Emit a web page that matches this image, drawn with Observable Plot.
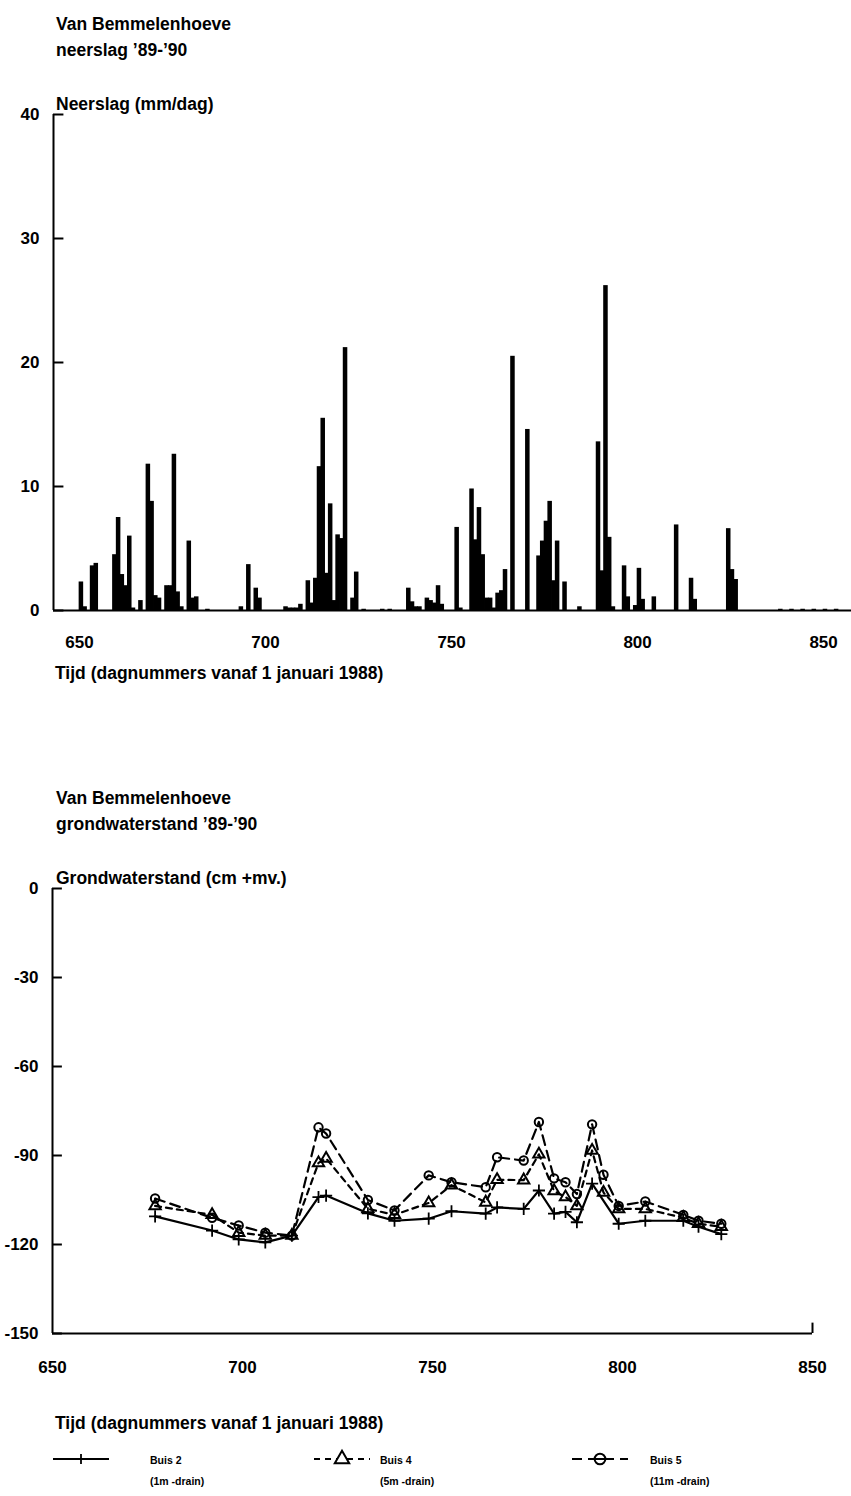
<!DOCTYPE html>
<html><head><meta charset="utf-8">
<script src="https://cdn.jsdelivr.net/npm/d3@7"></script>
<script src="https://cdn.jsdelivr.net/npm/@observablehq/plot@0.6"></script>
<style>
body{margin:0;background:#fff;}
#page{position:relative;width:851px;height:1496px;overflow:hidden;background:#fff;font-family:"Liberation Sans",Arial,sans-serif;font-weight:bold;color:#000}
.t{position:absolute;white-space:nowrap}
.chart{position:absolute;left:0}
</style></head><body><div id="page"></div>
<script>
// ---- precipitation (mm/day) ----
const rainDays = [650,651,653,654,659,660,661,662,663,664,666,668,669,670,671,673,674,675,676,677,679,680,681,684,
  693,695,697,698,705,706,707,708,709,711,712,713,714,715,716,717,718,719,720,721,723,724,726,731,733,
  738,739,740,741,743,744,745,746,747,751,752,755,756,757,758,759,760,761,762,763,764,766,770,773,774,775,776,777,778,780,784,
  789,790,791,792,793,796,797,799,800,801,804,810,814,815,824,825,826,838,841,844,847,850,853];
const rainValues = [2.3,0.3,3.6,3.8,4.5,7.5,2.9,2.0,6.0,0.2,0.8,11.8,8.8,1.2,1.0,2.0,2.0,12.6,1.5,0.3,5.6,1.0,1.1,0.1,
  0.3,3.7,1.8,1.0,0.3,0.2,0.2,0.2,0.5,2.4,0.6,2.6,11.6,15.5,3.0,8.6,0.8,6.1,5.8,21.2,1.0,3.1,0.1,0.1,0.1,
  1.8,0.7,0.3,0.3,1.0,0.8,0.6,2.0,0.5,6.7,0.2,9.8,5.7,8.3,4.5,1.0,1.0,0.2,1.4,1.6,3.3,20.5,14.6,4.4,5.6,7.2,8.8,2.4,5.6,2.3,0.3,
  13.6,3.2,26.2,5.9,0.3,3.6,1.1,0.4,3.4,0.9,1.1,6.9,2.6,0.9,6.6,3.3,2.5,0.1,0.1,0.1,0.1,0.1,0.1];
const rainTicks = [0,10,20,30,40];
const dayTicks = [650,700,750,800,850];

// ---- groundwater level (cm +mv.) ----
const buis2Days   = [677,692,699,706,713,720,722,733,740,749,755,764,767,774,778,782,785,788,792,799,806,816,820,826];
const buis2Values = [-110.5,-115.3,-118.3,-119.3,-117,-104,-103.5,-109.5,-112,-111.3,-108.8,-109.6,-107.5,-108,-101.8,-109.6,-109,-112.5,-99.5,-113,-112,-112,-114,-116.5];
const buisDays    = [677,692,699,706,713,720,722,733,740,749,755,764,767,774,778,782,785,788,792,795,799,806,816,820,826];
const buis4Values = [-107,-110,-116,-117,-117,-92.5,-91,-108,-110,-106,-100,-105.8,-98.2,-98.3,-89.6,-102,-104,-107,-88.3,-102.5,-108,-108,-111,-113,-114];
const buis5Values = [-104.5,-111,-113.6,-116,-117,-80.5,-82.6,-105,-108.5,-96.7,-99,-100.7,-90.6,-91.7,-78.7,-97.7,-99,-103,-79.5,-96.5,-107,-105.5,-110,-112,-113];
const gwTicks = [0,-30,-60,-90,-120,-150];

const titles = {
  rainTitle: "Van Bemmelenhoeve", rainSub: "neerslag \u201989-\u201990", rainAxis: "Neerslag (mm/dag)",
  gwTitle: "Van Bemmelenhoeve", gwSub: "grondwaterstand \u201989-\u201990", gwAxis: "Grondwaterstand (cm +mv.)",
  xLabel: "Tijd (dagnummers vanaf 1 januari 1988)"
};
const legendNames = ["Buis 2","Buis 4","Buis 5"];
const legendSubs = ["(1m -drain)","(5m -drain)","(11m -drain)"];

const page = d3.select("#page");
function label(text, left, baseline, size) {
  page.append("div").attr("class","t")
    .style("left", left+"px").style("top", (baseline - 0.8465*size)+"px")
    .style("font-size", size+"px").style("line-height", size+"px").text(text);
}
const font = {fontFamily: "'Liberation Sans', Arial, sans-serif", fontWeight: "bold", background: "transparent", overflow: "visible"};
const fmt = d => String(d);

// ---------- top chart ----------
const rain = rainDays.map((d,i)=>({day:d, mm:rainValues[i]}));
const rainPlot = Plot.plot({
  width: 851, height: 600,
  marginLeft: 53, marginRight: 0, marginTop: 14, marginBottom: 90,
  x: {domain: [643, 857.5]},
  y: {domain: [0, 40]},
  style: {...font, fontSize: "17px"},
  marks: [
    Plot.rectY(rain, {x1: d => d.day, x2: d => d.day + 1, y: "mm", fill: "black", insetLeft: -0.4, insetRight: -0.4}),
    Plot.ruleY([0], {x1: 643, x2: 857.5, stroke: "black", strokeWidth: 2}),
    Plot.ruleX([643], {y1: 0, y2: 40, stroke: "black", strokeWidth: 2}),
    Plot.ruleY(rainTicks, {x1: 643, x2: 645.8, stroke: "black", strokeWidth: 2}),
    Plot.axisY({ticks: rainTicks, tickFormat: fmt, tickSize: 0, tickPadding: 14, fontSize: 17, label: null}),
    Plot.axisX({ticks: dayTicks, tickFormat: fmt, tickSize: 0, tickPadding: 25, fontSize: 17, label: null})
  ]
});
d3.select(rainPlot).attr("class","chart").style("top","100px");
page.node().appendChild(rainPlot);

label(titles.rainTitle, 56, 31, 17.5);
label(titles.rainSub, 56, 57, 17.5);
label(titles.rainAxis, 56, 111, 17.5);
label(titles.xLabel, 55, 680, 17.5);

// ---------- bottom chart ----------
const b2 = buis2Days.map((d,i)=>({day:d, v:buis2Values[i]}));
const b4 = buisDays.map((d,i)=>({day:d, v:buis4Values[i]}));
const b5 = buisDays.map((d,i)=>({day:d, v:buis5Values[i]}));
const gwPlot = Plot.plot({
  width: 851, height: 560,
  marginLeft: 52, marginRight: 39, marginTop: 28, marginBottom: 87,
  x: {domain: [650, 850]},
  y: {domain: [-150, 0]},
  style: {...font, fontSize: "17px"},
  marks: [
    Plot.ruleY([-150], {x1: 650, x2: 850, stroke: "black", strokeWidth: 2}),
    Plot.ruleX([650], {y1: -150, y2: 0, stroke: "black", strokeWidth: 2}),
    Plot.ruleY(gwTicks, {x1: 650, x2: 652.6, stroke: "black", strokeWidth: 2}),
    Plot.ruleX([850], {y1: -150, y2: -146.5, stroke: "black", strokeWidth: 2}),
    Plot.line(b5, {x: "day", y: "v", stroke: "black", strokeWidth: 2.2, strokeDasharray: "10,6"}),
    Plot.line(b4, {x: "day", y: "v", stroke: "black", strokeWidth: 2.2, strokeDasharray: "6,5"}),
    Plot.line(b2, {x: "day", y: "v", stroke: "black", strokeWidth: 2.2}),
    Plot.dot(b5, {x: "day", y: "v", symbol: "circle", r: 4.2, stroke: "black", strokeWidth: 2, fill: "none"}),
    Plot.dot(b4, {x: "day", y: "v", symbol: "triangle", r: 4.2, stroke: "black", strokeWidth: 2, fill: "none"}),
    Plot.dot(b2, {x: "day", y: "v", symbol: "plus", r: 4, stroke: "black", strokeWidth: 1.8}),
    Plot.axisY({ticks: gwTicks, tickFormat: fmt, tickSize: 0, tickPadding: 14, fontSize: 17, label: null}),
    Plot.axisX({ticks: dayTicks, tickFormat: fmt, tickSize: 0, tickPadding: 27, fontSize: 17, label: null})
  ]
});
d3.select(gwPlot).attr("class","chart").style("top","860px");
page.node().appendChild(gwPlot);

label(titles.gwTitle, 56, 805, 17.5);
label(titles.gwSub, 56, 831, 17.5);
label(titles.gwAxis, 56, 885, 17.5);
label(titles.xLabel, 55, 1430, 17.5);

// ---------- legend ----------
const leg = page.append("svg").attr("class","chart").style("top","1445px")
  .attr("width", 851).attr("height", 51);
const legX = [53, 314, 572];
const textX = [150, 380, 650];
const dashes = [null, "6,5", "10,6"];
const symbols = [d3.symbolCross, d3.symbolTriangle, d3.symbolCircle];
legX.forEach((x0, i) => {
  const g = leg.append("g");
  g.append("line").attr("x1", x0).attr("x2", x0 + 56).attr("y1", 14).attr("y2", 14)
    .attr("stroke", "black").attr("stroke-width", 2).attr("stroke-dasharray", dashes[i]);
  if (i === 0) {
    g.append("line").attr("x1", x0+28).attr("x2", x0+28).attr("y1", 9).attr("y2", 19).attr("stroke","black").attr("stroke-width",1.8);
  } else {
    g.append("path").attr("d", d3.symbol(symbols[i], 90)()).attr("transform", `translate(${x0+28},14)`)
      .attr("fill", "white").attr("stroke", "black").attr("stroke-width", 2);
    if (i === 2) g.append("line").attr("x1", x0+22).attr("x2", x0+34).attr("y1", 14).attr("y2", 14).attr("stroke","black").attr("stroke-width",2);
  }
  g.append("text").attr("x", textX[i]).attr("y", 19).attr("font-size", 10.5).attr("font-weight", "bold")
    .attr("font-family", "'Liberation Sans', Arial, sans-serif").text(legendNames[i]);
  g.append("text").attr("x", textX[i]).attr("y", 40).attr("font-size", 10.5).attr("font-weight", "bold")
    .attr("font-family", "'Liberation Sans', Arial, sans-serif").text(legendSubs[i]);
});
</script>
</body></html>
